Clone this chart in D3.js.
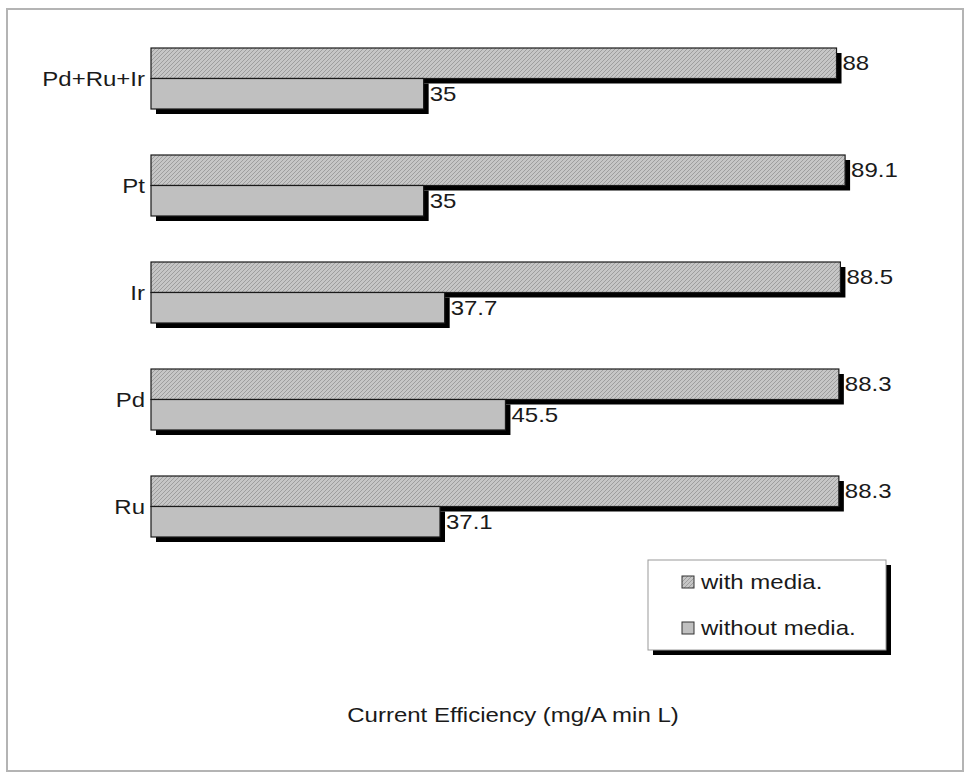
<!DOCTYPE html>
<html>
<head>
<meta charset="utf-8">
<script src="https://cdn.jsdelivr.net/npm/d3@7/dist/d3.min.js"></script>
<style>
  html, body { margin: 0; padding: 0; background: #fff; }
  svg { display: block; }
  text { font-family: "Liberation Sans", Arial, sans-serif; fill: #1a1a1a; }
</style>
</head>
<body>
<svg id="chart" width="964" height="773"></svg>
<script>
// Electrode materials, listed top to bottom
const categories = ["Pd+Ru+Ir", "Pt", "Ir", "Pd", "Ru"];
const seriesNames = ["with media.", "without media."];
const withMedia = [88, 89.1, 88.5, 88.3, 88.3];
const withoutMedia = [35, 35, 37.7, 45.5, 37.1];
const xTitle = "Current Efficiency (mg/A min L)";

const svg = d3.select("#chart");
const fontSize = 20;
const stretch = 1.2;   // wide lettering, as in the original export
const place = (px, py) => `translate(${px},${py}) scale(${stretch},1)`;

// Chart frame
svg.append("rect")
  .attr("x", 7).attr("y", 9)
  .attr("width", 956).attr("height", 762)
  .attr("fill", "#fff")
  .attr("stroke", "#b4b4b4")
  .attr("stroke-width", 2);

// Diagonal hatch for the "with media" series
const defs = svg.append("defs");
const pat = defs.append("pattern")
  .attr("id", "hatch")
  .attr("patternUnits", "userSpaceOnUse")
  .attr("width", 4).attr("height", 4);
pat.append("rect").attr("width", 4).attr("height", 4).attr("fill", "#c6c6c6");
pat.append("path")
  .attr("d", "M-1,1 l2,-2 M0,4 l4,-4 M3,5 l2,-2")
  .attr("stroke", "#9e9e9e")
  .attr("stroke-width", 1);

const plot = { left: 151, right: 930, top: 25, bottom: 560 };

const x = d3.scaleLinear().domain([0, 100]).range([plot.left, plot.right]);
const y = d3.scaleBand().domain(categories).range([plot.top, plot.bottom]).paddingInner(0.43).paddingOuter(0.215);
const ySub = d3.scaleBand().domain(seriesNames).range([0, y.bandwidth()]);

const fills = { "with media.": "url(#hatch)", "without media.": "#c0c0c0" };
const shadow = 5;

const rows = categories.map((c, i) => ({
  cat: c,
  vals: [
    { s: seriesNames[0], v: withMedia[i] },
    { s: seriesNames[1], v: withoutMedia[i] }
  ]
}));

const groups = svg.append("g").selectAll("g.cat")
  .data(rows).join("g")
  .attr("class", "cat")
  .attr("transform", d => `translate(0,${y(d.cat)})`);

// Drop shadows first, bottom series first so upper bars overlap
groups.selectAll("rect.shadow")
  .data(d => d.vals.slice().reverse())
  .join("rect")
  .attr("class", "shadow")
  .attr("x", x(0) + shadow)
  .attr("y", d => ySub(d.s) + shadow)
  .attr("width", d => x(d.v) - x(0))
  .attr("height", ySub.bandwidth())
  .attr("fill", "#000");

groups.selectAll("rect.bar")
  .data(d => d.vals)
  .join("rect")
  .attr("class", "bar")
  .attr("x", x(0))
  .attr("y", d => ySub(d.s))
  .attr("width", d => x(d.v) - x(0))
  .attr("height", ySub.bandwidth())
  .attr("fill", d => fills[d.s])
  .attr("stroke", "#1a1a1a")
  .attr("stroke-width", 1.2);

// Value labels
groups.selectAll("text.val")
  .data(d => d.vals)
  .join("text")
  .attr("class", "val")
  .attr("transform", d => place(x(d.v) + shadow + 1, ySub(d.s) + ySub.bandwidth() / 2))
  .attr("dy", "0.35em")
  .attr("font-size", fontSize)
  .text(d => d.v);

// Category labels
svg.append("g").selectAll("text")
  .data(categories).join("text")
  .attr("transform", d => place(plot.left - 6, y(d) + y.bandwidth() / 2))
  .attr("dy", "0.35em")
  .attr("text-anchor", "end")
  .attr("font-size", fontSize)
  .text(d => d);

// Axis title
svg.append("text")
  .attr("transform", place(513, 715))
  .attr("dy", "0.35em")
  .attr("text-anchor", "middle")
  .attr("font-size", fontSize)
  .text(xTitle);

// Legend
const lg = { x: 648, y: 560, w: 238, h: 90 };
const legend = svg.append("g");
legend.append("rect")
  .attr("x", lg.x + shadow).attr("y", lg.y + shadow)
  .attr("width", lg.w).attr("height", lg.h)
  .attr("fill", "#000");
legend.append("rect")
  .attr("x", lg.x).attr("y", lg.y)
  .attr("width", lg.w).attr("height", lg.h)
  .attr("fill", "#fff")
  .attr("stroke", "#999")
  .attr("stroke-width", 1);
const items = legend.selectAll("g.item")
  .data(seriesNames).join("g")
  .attr("class", "item")
  .attr("transform", (d, i) => `translate(${lg.x + 34},${lg.y + 22 + i * 46})`);
items.append("rect")
  .attr("x", 0).attr("y", -6)
  .attr("width", 12).attr("height", 12)
  .attr("fill", d => fills[d])
  .attr("stroke", "#333")
  .attr("stroke-width", 1);
items.append("text")
  .attr("transform", place(19, 0))
  .attr("dy", "0.35em")
  .attr("font-size", fontSize)
  .text(d => d);
</script>
</body>
</html>
